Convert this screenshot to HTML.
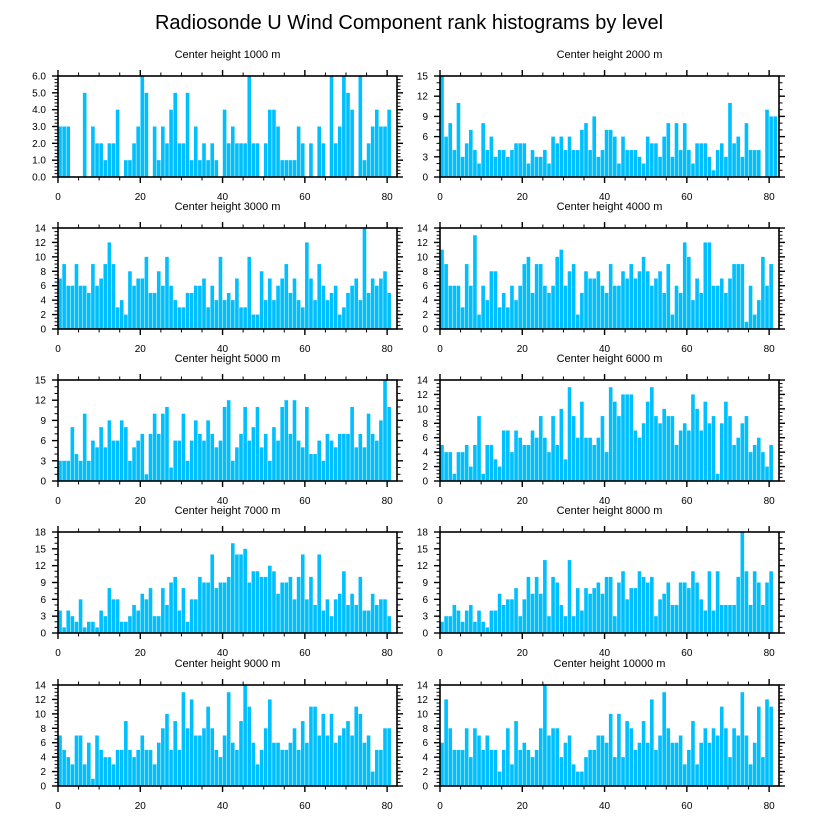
<!DOCTYPE html>
<html><head><meta charset="utf-8"><style>
html,body{margin:0;padding:0;background:#fff;}
svg{display:block;font-family:"Liberation Sans",sans-serif;}
</style></head><body>
<svg id="chart" width="818" height="824" viewBox="0 0 818 824" xmlns="http://www.w3.org/2000/svg">
<text x="409" y="29" text-anchor="middle" font-size="20" fill="#000">Radiosonde U Wind Component rank histograms by level</text>
</svg>
<script>
const heights = ["1000","2000","3000","4000","5000","6000","7000","8000","9000","10000"];
const yMaxes = [6,15,14,14,15,14,18,18,14,14];
const ySteps = [1,3,2,2,3,2,3,3,2,2];
const xTicks = [0,20,40,60,80];
const h1000 = [3,3,3,0,0,0,5,0,3,2,2,1,2,2,4,0,1,1,2,3,6,5,0,3,1,3,2,4,5,2,2,5,1,3,1,2,1,2,1,0,4,2,3,2,2,2,6,2,2,0,2,4,4,3,1,1,1,1,3,2,0,2,0,3,2,0,6,2,3,6,5,4,0,6,1,2,3,4,3,3,4];
const h2000 = [15,6,8,4,11,3,5,7,4,2,8,4,6,3,4,4,3,4,5,5,5,2,4,3,3,4,2,6,5,6,4,6,4,4,7,8,4,9,3,4,7,7,6,2,6,4,4,4,3,2,6,5,5,3,6,8,3,8,4,8,4,2,5,5,5,3,1,4,5,3,11,5,6,3,8,4,4,4,0,10,9,9];
const h3000 = [7,9,6,6,9,6,6,5,9,6,7,9,12,9,3,4,2,8,6,7,7,10,5,5,8,6,10,6,4,3,3,5,5,6,6,7,3,6,4,10,4,5,4,7,3,3,10,2,2,8,4,7,4,6,7,9,5,7,4,3,12,7,4,9,6,4,5,6,2,3,5,6,7,4,14,5,7,6,7,8,5];
const h4000 = [11,9,6,6,6,3,9,6,13,2,6,4,8,8,3,5,3,6,4,6,9,10,5,9,9,6,5,6,10,11,6,8,9,2,5,8,7,7,8,6,5,9,6,6,8,7,9,7,8,10,8,6,7,8,5,9,2,6,5,12,10,4,7,5,12,12,6,6,7,5,7,9,9,9,1,6,2,4,10,6,9];
const h5000 = [3,3,3,8,4,3,10,3,6,5,8,5,9,6,6,9,8,3,5,6,7,1,7,10,7,10,11,2,6,6,10,3,6,9,7,6,9,7,5,6,11,12,3,5,7,11,6,8,11,5,7,3,8,6,11,12,7,12,6,5,11,4,4,6,3,7,6,5,7,7,7,11,5,7,5,10,7,6,9,15,11];
const h6000 = [5,4,4,1,4,4,5,2,5,9,1,5,5,3,2,7,7,4,7,6,5,5,7,6,9,6,4,9,5,10,3,13,9,6,11,6,6,5,6,9,4,13,11,9,12,12,12,7,6,8,11,13,9,8,10,9,9,5,7,8,7,12,10,7,11,8,9,1,8,11,9,5,6,8,9,4,5,6,4,2,5];
const h7000 = [4,1,4,3,2,6,1,2,2,1,4,3,8,6,6,2,2,3,5,4,7,6,8,3,3,8,5,9,10,4,8,2,6,6,10,9,9,14,8,9,9,10,16,14,14,15,9,11,11,10,10,12,11,7,9,9,10,6,10,14,6,10,5,14,4,6,3,6,7,11,5,7,5,10,4,4,7,5,6,6,3];
const h8000 = [2,3,3,5,4,2,4,5,2,4,2,1,4,4,7,5,6,6,8,3,6,10,7,10,7,13,3,10,9,5,3,13,3,8,4,8,7,8,9,7,10,10,3,9,11,6,8,8,11,10,9,10,3,6,7,9,5,5,9,9,8,11,9,6,4,11,4,11,5,5,5,5,10,18,11,5,11,9,5,9,11];
const h9000 = [7,5,4,3,7,7,3,6,1,7,5,4,4,3,5,5,9,5,4,5,7,5,5,3,6,8,10,5,9,5,13,8,12,7,7,8,11,8,5,4,7,13,6,5,9,14,11,6,3,5,8,12,6,6,5,5,6,8,5,9,6,11,11,7,10,7,10,6,7,8,9,7,11,10,6,7,2,5,5,8,8];
const h10000 = [6,12,8,5,5,5,8,4,8,7,5,7,5,5,2,5,8,3,9,5,6,5,4,5,8,14,7,8,8,4,6,7,3,2,2,4,5,5,7,7,6,10,4,10,4,9,8,5,6,9,6,12,5,7,13,8,6,6,7,3,5,9,3,6,8,6,8,7,11,8,4,8,7,13,7,3,6,11,4,12,11];
const series = [h1000,h2000,h3000,h4000,h5000,h6000,h7000,h8000,h9000,h10000];

const NS = "http://www.w3.org/2000/svg";
const svg = document.getElementById("chart");
const colX = [58, 440];
const rowY = [76, 228, 380, 532, 685];
const PW = 339, PH = 101, XMAX = 82.4;
function mk(tag, attrs, parent){const e=document.createElementNS(NS,tag);for(const k in attrs)e.setAttribute(k,attrs[k]);parent.appendChild(e);return e;}

series.forEach((vals, p) => {
  const x0 = colX[p%2], y0 = rowY[Math.floor(p/2)];
  const ymax = yMaxes[p], step = ySteps[p];
  const xs = v => x0 + v/XMAX*PW;
  const ys = v => y0 + PH - v/ymax*PH;
  const g = mk("g", {}, svg);
  
  
  const t = mk("text", {x: x0+PW/2, y: y0-18, "text-anchor":"middle", "font-size":"11", fill:"#000"}, g);
  
  
  t.textContent = "Center height " + heights[p] + " m";
  vals.forEach((v, i) => {
    if (v <= 0) return;
    const r = mk("rect", {x: xs(i)+0.2, y: ys(v), width: Math.max(0.5, xs(i+1)-xs(i)-0.5), height: ys(0)-ys(v), fill:"#00bfff"}, g);
    
    
  });
  const fr = mk("rect", {x:x0, y:y0, width:PW, height:PH, fill:"none", stroke:"#000", "stroke-width":"1.6"}, g);
  
  
  for (let v=0; v<=80; v+=5){
    const major = v%20===0, L = major?6:3.5, X = xs(v);
    mk("line",{x1:X,y1:y0+PH,x2:X,y2:y0+PH+L,stroke:"#000","stroke-width":major?1.4:1},g);
    mk("line",{x1:X,y1:y0,x2:X,y2:y0-L,stroke:"#000","stroke-width":major?1.4:1},g);
  }
  xTicks.forEach(v=>{
    const l = mk("text",{x:xs(v),y:y0+PH+23,"text-anchor":"middle","font-size":"10",fill:"#000"},g);
    
    
    l.textContent = v;
  });
  const minor = step===1?0.2:(step===3?1:0.5);
  for (let k=0; k<=Math.round(ymax/minor); k++){
    const v = k*minor, Y = ys(v);
    const major = Math.abs(v/step - Math.round(v/step))<1e-6, L = major?6:3.5;
    mk("line",{x1:x0,y1:Y,x2:x0-L,y2:Y,stroke:"#000","stroke-width":major?1.4:1},g);
    mk("line",{x1:x0+PW,y1:Y,x2:x0+PW+L,y2:Y,stroke:"#000","stroke-width":major?1.4:1},g);
  }
  for (let v=0; v<=ymax+1e-6; v+=step){
    const l = mk("text",{x:x0-12,y:ys(v)+3.5,"text-anchor":"end","font-size":"10",fill:"#000"},g);
    
    
    l.textContent = p===0 ? v.toFixed(1) : v;
  }
});
</script>
</body></html>
